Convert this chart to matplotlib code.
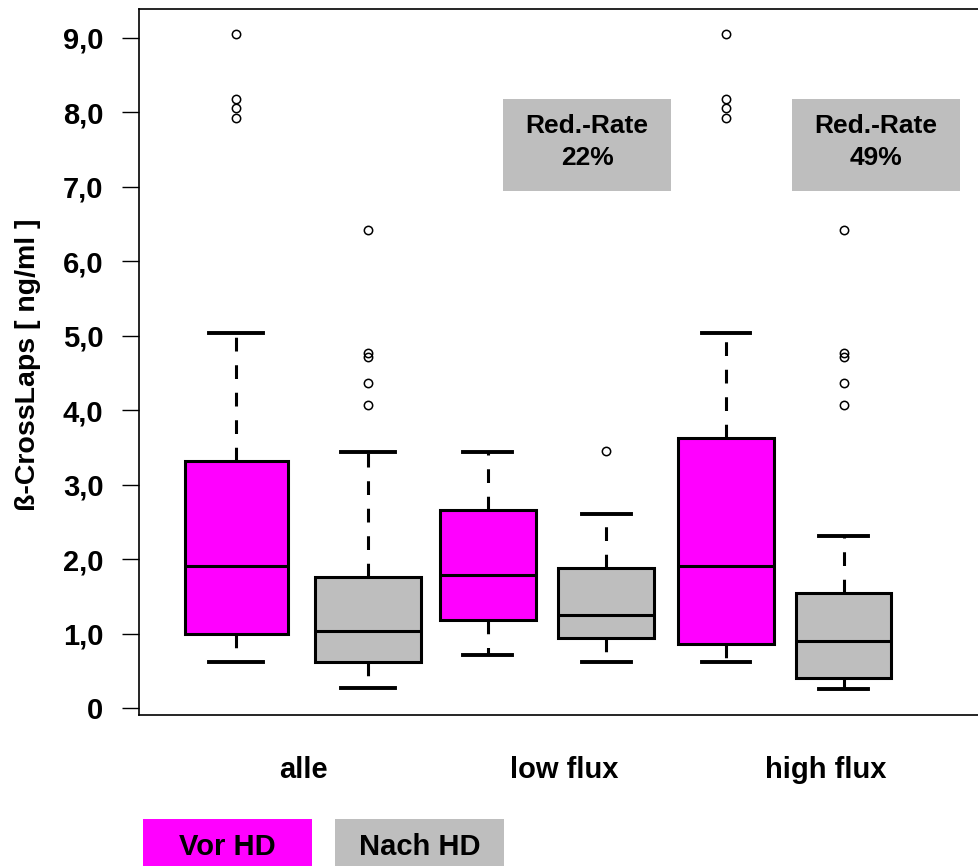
import matplotlib

matplotlib.use("Agg")
import matplotlib.pyplot as plt
from matplotlib.patches import Rectangle

plt.rcParams["font.family"] = ["Liberation Sans", "DejaVu Sans"]
plt.rcParams["font.weight"] = "bold"

# Data
groups = ["alle", "low flux", "high flux"]
series = ["Vor HD", "Nach HD"]

vor_whislo = [0.62, 0.71, 0.62]
vor_q1 = [1.00, 1.18, 0.86]
vor_med = [1.91, 1.79, 1.91]
vor_q3 = [3.32, 2.66, 3.63]
vor_whishi = [5.03, 3.44, 5.03]
vor_fliers = [[9.05, 8.18, 8.06, 7.92], [], [9.05, 8.18, 8.06, 7.92]]

nach_whislo = [0.27, 0.62, 0.26]
nach_q1 = [0.62, 0.94, 0.40]
nach_med = [1.03, 1.25, 0.90]
nach_q3 = [1.76, 1.88, 1.55]
nach_whishi = [3.44, 2.61, 2.31]
nach_fliers = [[6.42, 4.77, 4.71, 4.36, 4.07], [3.45], [6.42, 4.77, 4.71, 4.36, 4.07]]

red_rates = ["22%", "49%"]
y_ticks = [0, 1, 2, 3, 4, 5, 6, 7, 8, 9]
y_ticklabels = ["0", "1,0", "2,0", "3,0", "4,0", "5,0", "6,0", "7,0", "8,0", "9,0"]

# Layout / style
MAGENTA = "#FF00FF"
GRAY = "#BEBEBE"
positions = [1.0, 2.11, 3.12, 4.12, 5.13, 6.12]
widths = [0.87, 0.89, 0.81, 0.81, 0.81, 0.80]
capwidths = [0.46, 0.46, 0.41, 0.41, 0.41, 0.41]

stats = []
colors = []
for i in range(len(groups)):
    for lo, q1, med, q3, hi, fl, col in [
        (vor_whislo, vor_q1, vor_med, vor_q3, vor_whishi, vor_fliers, MAGENTA),
        (nach_whislo, nach_q1, nach_med, nach_q3, nach_whishi, nach_fliers, GRAY),
    ]:
        stats.append(dict(whislo=lo[i], q1=q1[i], med=med[i], q3=q3[i],
                          whishi=hi[i], fliers=fl[i]))
        colors.append(col)

fig = plt.figure(figsize=(9.79, 8.66), dpi=100, facecolor="white")
ax = fig.add_axes([139 / 979, 1 - 715 / 866, 1 - 139 / 979, (715 - 9) / 866])

bp = ax.bxp(
    stats, positions=positions, widths=widths, capwidths=capwidths,
    patch_artist=True, showfliers=True,
    boxprops=dict(edgecolor="black", linewidth=2.2),
    medianprops=dict(color="black", linewidth=2.2),
    whiskerprops=dict(color="black", linewidth=2.2, linestyle=(0, (4.5, 4.5))),
    capprops=dict(color="black", linewidth=2.8),
    flierprops=dict(marker="o", markerfacecolor="none", markeredgecolor="black",
                    markersize=6, markeredgewidth=1.1),
)
for patch, col in zip(bp["boxes"], colors):
    patch.set_facecolor(col)

ax.set_xlim(0.181, 7.262)
ax.set_ylim(-0.094, 9.386)
ax.set_yticks(y_ticks)
ax.set_yticklabels(y_ticklabels, fontsize=21, fontweight="bold")
ax.tick_params(axis="y", length=12, width=1.0, pad=13.5)
ax.set_xticks([])
ax.spines["right"].set_visible(False)
for s in ["left", "top", "bottom"]:
    ax.spines[s].set_linewidth(1.2)

# Group labels under the axis
label_x = [1.565, 3.768, 5.97]
for x, g in zip(label_x, groups):
    ax.text(x, 0, g, transform=ax.get_xaxis_transform(), ha="center",
            va="baseline", fontsize=21, fontweight="bold")
for t in ax.texts:
    t.set_y(-(778 - 715) / (715 - 9))

fig.text(28 / 979, 0.579, "ß-CrossLaps [ ng/ml ]", rotation=90, ha="center",
         va="center", fontsize=20.5, fontweight="bold")

# Reduction-rate boxes
for x0, rate in zip([503, 792], red_rates):
    fig.add_artist(Rectangle((x0 / 979, 1 - 191 / 866), 168 / 979, 92 / 866,
                             transform=fig.transFigure, facecolor=GRAY,
                             edgecolor="none"))
    cx = (x0 + 84) / 979
    fig.text(cx, 1 - 133 / 866, "Red.-Rate", ha="center", va="baseline",
             fontsize=19, fontweight="bold")
    fig.text(cx, 1 - 165 / 866, rate, ha="center", va="baseline",
             fontsize=19, fontweight="bold")

# Legend boxes
for x0, name, col in zip([143, 335], series, [MAGENTA, GRAY]):
    fig.add_artist(Rectangle((x0 / 979, 0), 169 / 979, 47 / 866,
                             transform=fig.transFigure, facecolor=col,
                             edgecolor="none"))
    fig.text((x0 + 84.5) / 979, 1 - 855 / 866, name, ha="center",
             va="baseline", fontsize=21, fontweight="bold")

fig.savefig("out.png", dpi=100, facecolor="white")
plt.close(fig)
